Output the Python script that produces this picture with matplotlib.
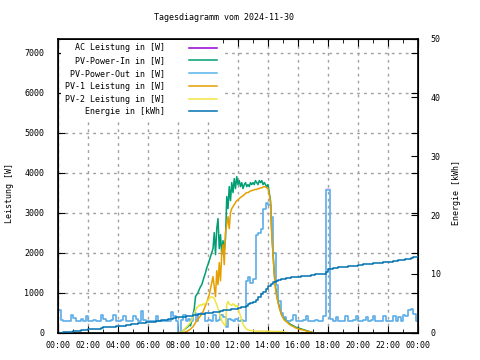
import matplotlib
matplotlib.use("Agg")
import matplotlib.pyplot as plt
import numpy as np

plt.rcParams['font.family'] = ['DejaVu Sans Mono']
plt.rcParams['font.size'] = 6

title = "Tagesdiagramm vom 2024-11-30"

# 10-minute grid over the whole day (hours)
t10_start, t10_step = 0.0, 10 / 60
pv_out = [560, 320, 290, 280, 300, 430,
          360, 300, 290, 330, 300, 420,
          300, 290, 310, 300, 280, 430,
          330, 300, 290, 310, 430, 300,
          290, 310, 420, 300, 290, 300,
          420, 350, 300, 540, 310, 290,
          300, 280, 300, 410, 290, 300,
          290, 300, 280, 520, 410, 300,
          0, 320, 430, 300, 350, 300,
          480, 300, 460, 480, 470, 300,
          310, 300, 450, 300, 310, 450,
          380, 150, 330, 320, 300, 330,
          300, 320, 300, 1300, 1400, 1250,
          1350, 2450, 2500, 2600, 3100, 3250,
          3200, 2900, 2000, 1200, 800, 500,
          380, 300, 290, 310, 450, 300,
          300, 290, 310, 420, 300, 290,
          300, 310, 290, 300, 420, 3560,
          3560, 350, 300, 400, 300, 290,
          300, 410, 300, 290, 310, 420,
          300, 300, 310, 380, 300, 310,
          420, 300, 290, 300, 410, 290,
          300, 300, 410, 300, 380, 300,
          430, 420, 560, 600, 460, 300,
          300]
ac_leistung = [560, 320, 290, 280, 300, 430,
               360, 300, 290, 330, 300, 420,
               300, 290, 310, 300, 280, 430,
               330, 300, 290, 310, 430, 300,
               290, 310, 420, 300, 290, 300,
               420, 350, 300, 540, 310, 290,
               300, 280, 300, 410, 290, 300,
               290, 300, 280, 520, 410, 300,
               0, 320, 430, 300, 350, 300,
               480, 300, 460, 480, 470, 300,
               310, 300, 450, 300, 310, 450,
               380, 150, 330, 320, 300, 330,
               300, 320, 300, 1300, 1400, 1250,
               1350, 2450, 2500, 2600, 3100, 3250,
               3200, 2900, 2000, 1200, 800, 500,
               380, 300, 290, 310, 450, 300,
               300, 290, 310, 420, 300, 290,
               300, 310, 290, 300, 420, 3590,
               3590, 350, 300, 400, 300, 290,
               300, 410, 300, 290, 310, 420,
               300, 300, 310, 380, 300, 310,
               420, 300, 290, 300, 410, 290,
               300, 300, 410, 300, 380, 300,
               430, 420, 560, 600, 460, 300,
               300]
energie = [0.0, 0.0, 0.1, 0.1, 0.2, 0.2,
           0.3, 0.3, 0.3, 0.4, 0.4, 0.5,
           0.6, 0.6, 0.6, 0.7, 0.7, 0.8,
           0.9, 0.9, 0.9, 1.0, 1.0, 1.1,
           1.2, 1.2, 1.2, 1.3, 1.3, 1.4,
           1.5, 1.5, 1.6, 1.6, 1.7, 1.8,
           1.8, 1.9, 1.9, 2.0, 2.0, 2.1,
           2.2, 2.2, 2.3, 2.4, 2.5, 2.6,
           2.6, 2.7, 2.7, 2.8, 2.9, 2.9,
           3.0, 3.0, 3.1, 3.2, 3.2, 3.3,
           3.4, 3.4, 3.5, 3.6, 3.6, 3.7,
           3.8, 3.8, 3.9, 4.0, 4.0, 4.1,
           4.2, 4.3, 4.4, 4.6, 4.8, 5.0,
           5.3, 5.6, 6.0, 6.5, 6.9, 7.4,
           7.9, 8.3, 8.6, 8.8, 9.0, 9.1,
           9.2, 9.3, 9.3, 9.4, 9.4, 9.5,
           9.5, 9.6, 9.6, 9.7, 9.7, 9.8,
           9.8, 9.9, 9.9, 10.0, 10.0, 10.3,
           10.8, 10.9, 11.0, 11.0, 11.1, 11.1,
           11.2, 11.2, 11.3, 11.3, 11.4, 11.4,
           11.5, 11.5, 11.6, 11.6, 11.7, 11.7,
           11.8, 11.8, 11.9, 11.9, 12.0, 12.0,
           12.1, 12.1, 12.2, 12.2, 12.3, 12.3,
           12.4, 12.5, 12.6, 12.7, 12.8, 12.9,
           13.0]

# 5-minute grid from 08:00 to 17:00 for the PV strings
t5_start, t5_step = 8.0, 5 / 60
pv_in = [0, 0, 0, 20, 50, 80,
         100, 130, 150, 200, 170, 300,
         420, 600, 900, 950, 1000, 1080,
         1150, 1200, 1300, 1400, 1500, 1620,
         1700, 1800, 1900, 2000, 2100, 2500,
         1950, 2600, 2850, 2100, 2450, 1950,
         2300, 2050, 2350, 3400, 3100, 3650,
         3300, 3750, 3500, 3850, 3600, 3900,
         3700, 3800, 3650, 3750, 3600, 3700,
         3750, 3650, 3700, 3650, 3750, 3700,
         3750, 3700, 3800, 3750, 3700, 3800,
         3750, 3800, 3700, 3750, 3700, 3650,
         3700, 3500, 3300, 2500, 2000, 1500,
         1150, 950, 800, 650, 550, 450,
         400, 350, 320, 300, 260, 230,
         210, 190, 180, 160, 140, 130,
         120, 110, 100, 90, 80, 70,
         60, 50, 40, 30, 20, 10,
         0]
pv1 = [0, 0, 0, 0, 0, 10,
       20, 30, 50, 70, 90, 120,
       150, 200, 250, 300, 340, 380,
       420, 470, 520, 600, 680, 760,
       850, 950, 1100, 1250, 1400, 1150,
       900, 1550, 1200, 1750, 1300, 2000,
       2200, 1700, 2500, 2700, 2900, 2600,
       3000, 3100, 3150, 3200, 3250, 3300,
       3320, 3350, 3380, 3400, 3420, 3450,
       3480, 3500, 3500, 3520, 3540, 3550,
       3560, 3570, 3580, 3580, 3600, 3600,
       3620, 3620, 3640, 3650, 3640, 3620,
       3600, 3450, 3250, 2450, 1950, 1450,
       1100, 900, 750, 620, 520, 430,
       370, 320, 290, 270, 240, 210,
       190, 170, 160, 140, 120, 110,
       100, 90, 80, 75, 70, 60,
       50, 40, 30, 25, 15, 5,
       0]
pv2 = [0, 0, 0, 20, 50, 80,
       120, 150, 180, 220, 260, 320,
       400, 480, 560, 620, 650, 680,
       700, 680, 720, 700, 740, 760,
       800, 850, 880, 900, 880, 850,
       780, 700, 600, 500, 400, 300,
       250, 200, 180, 700, 780, 720,
       700, 680, 720, 700, 650, 680,
       640, 500, 420, 300, 220, 160,
       120, 90, 70, 60, 55, 50,
       45, 45, 40, 40, 40, 40,
       40, 40, 40, 35, 35, 35,
       35, 35, 35, 30, 30, 30,
       30, 30, 30, 30, 30, 30,
       25, 20, 10, 0, 0, 0,
       0, 0, 0, 0, 0, 0,
       0, 0, 0, 0, 0, 0,
       0, 0, 0, 0, 0, 0,
       0]

t10 = t10_start + t10_step * np.arange(len(pv_out))
t5 = t5_start + t5_step * np.arange(len(pv_in))

xticks = list(range(0, 25, 2))
xlabels = ["%02d:00" % (h % 24) for h in xticks]

fig = plt.figure(figsize=(4.8, 3.6), dpi=100)
ax = fig.add_axes([58 / 480, 27.3 / 360, 360 / 480, 294.2 / 360])
ax2 = ax.twinx()

lw = 1.1
# AC output sits almost exactly under PV-Power-Out, so keep it thin
ax.plot(t10, ac_leistung, color="#9400d3", lw=0.3, drawstyle="steps-post", label="AC Leistung in [W]")
ax.plot(t5, pv_in, color="#009e73", lw=lw, label="PV-Power-In in [W]")
ax.plot(t10, pv_out, color="#56b4e9", lw=lw, drawstyle="steps-post", label="PV-Power-Out in [W]")
ax.plot(t5, pv1, color="#e69f00", lw=lw, label="PV-1 Leistung in [W]")
ax.plot(t5, pv2, color="#f0e442", lw=lw, label="PV-2 Leistung in [W]")
ax2.plot(t10, energie, color="#0072b2", lw=lw, drawstyle="steps-post", label="Energie in [kWh]")

ax.set_xlim(0, 24)
ax.set_ylim(0, 7350)
ax2.set_ylim(0, 50)
ax.set_xticks(xticks)
ax.set_xticklabels(xlabels)
ax.set_xticks(range(0, 25), minor=True)
ax.set_yticks(range(0, 8000, 1000))
ax2.set_yticks(range(0, 60, 10))

ax.tick_params(axis="both", which="both", direction="in", top=True, right=True)
ax.tick_params(axis="y", which="major", length=5, pad=10)
ax.tick_params(axis="x", which="major", length=5, pad=6)
ax.tick_params(axis="x", which="minor", length=3)
ax2.tick_params(axis="y", direction="in", length=5, pad=9)

ax.grid(True, which="major", color="#a0a0a0", linestyle=(0, (2, 3)), lw=1)

ax.set_ylabel("Leistung [W]")
ax.yaxis.set_label_coords(-0.122, 0.475)
ax2.set_ylabel("Energie [kWh]")
ax2.yaxis.set_label_coords(1.095, 0.475)
fig.text(224 / 480, 1 - 18 / 360, title, ha="center", va="center")

for sp in ax.spines.values():
    sp.set_linewidth(1.2)

h1, l1 = ax.get_legend_handles_labels()
h2, l2 = ax2.get_legend_handles_labels()
leg = ax2.legend(h1 + h2, l1 + l2, loc="upper left", bbox_to_anchor=(0.005, 1.0),
                 markerfirst=False, frameon=True, fancybox=False, framealpha=1,
                 facecolor="white", edgecolor="none", handlelength=3.4,
                 handletextpad=2.9, labelspacing=0.45, borderpad=0.4,
                 borderaxespad=0.2)
leg.legend_handles[0].set_linewidth(lw)
leg.set_zorder(5)

fig.savefig("out.png", dpi=100)
